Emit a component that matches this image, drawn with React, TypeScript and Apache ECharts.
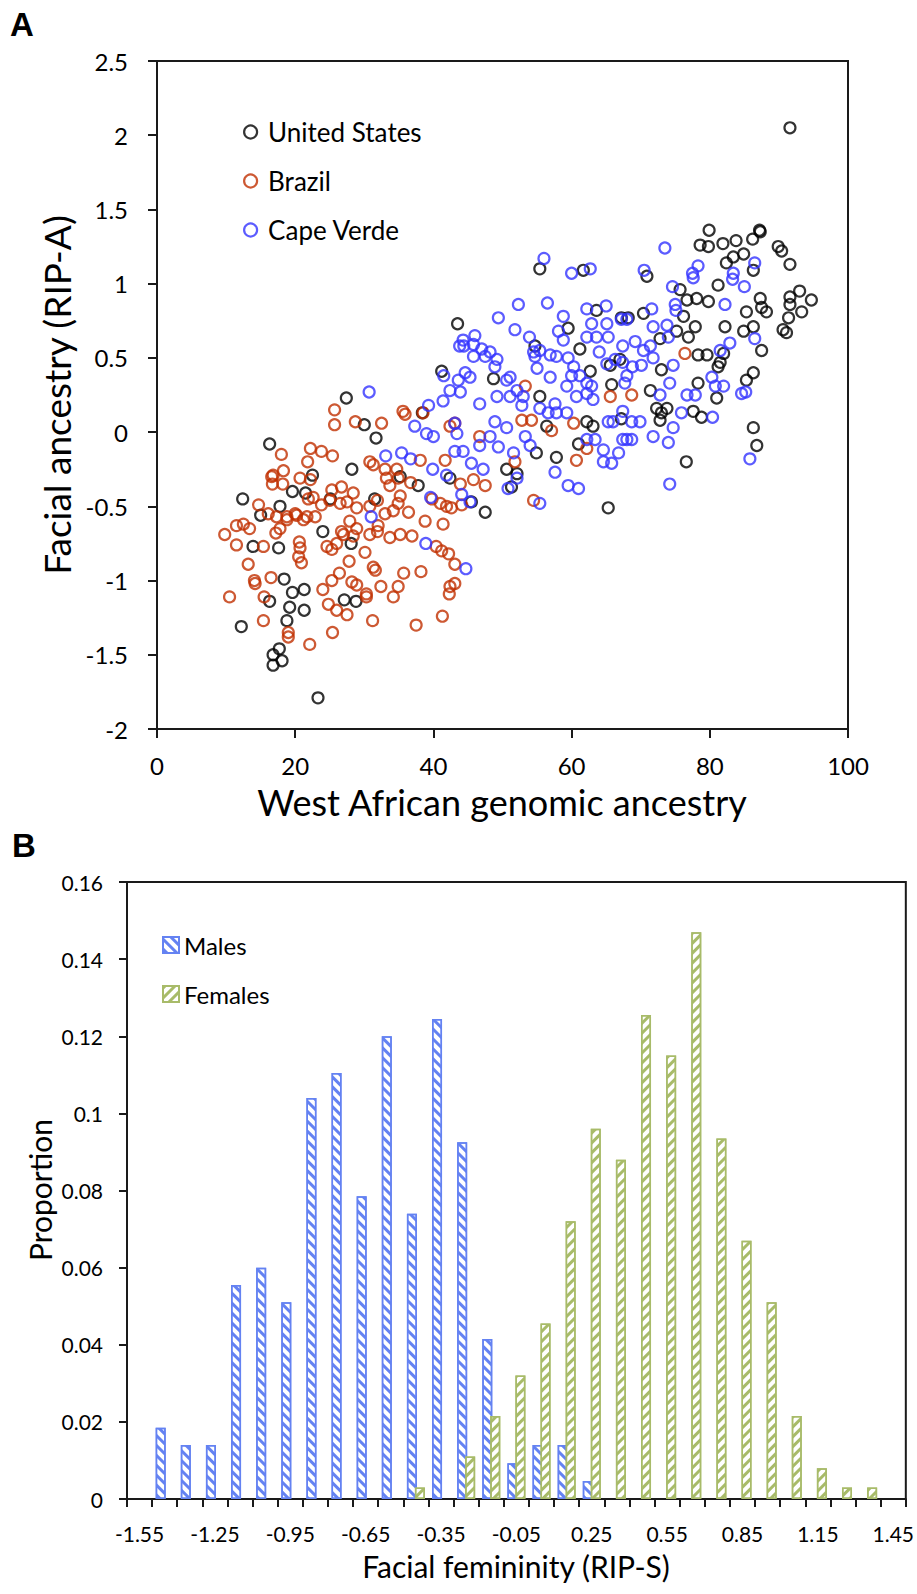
import React, { useEffect, useRef } from 'react';
import * as echarts from 'echarts';

// ---------- Panel A data: [West African genomic ancestry, Facial ancestry (RIP-A)] ----------
const unitedStates: number[][] = [
  [27.4,0.23],[30.0,0.05],[31.7,-0.04],[16.3,-0.08],[38.4,0.13],[28.2,-0.25],[22.5,-0.29],[19.6,-0.40],[21.5,-0.41],[12.4,-0.45],
  [17.8,-0.50],[15.0,-0.56],[31.5,-0.45],[35.2,-0.30],[37.8,-0.36],[42.4,-0.31],[24.0,-0.67],[28.1,-0.75],[13.9,-0.77],[17.6,-0.78],
  [18.4,-0.99],[19.6,-1.08],[21.3,-1.06],[16.3,-1.14],[19.2,-1.18],[21.3,-1.20],[27.1,-1.13],[28.8,-1.14],[18.8,-1.27],[12.2,-1.31],
  [17.7,-1.46],[16.8,-1.50],[18.1,-1.54],[16.8,-1.57],[23.3,-1.79],[25.1,-0.45],
  [43.5,0.73],[41.2,0.41],[47.5,-0.54],[65.3,-0.51],[45.5,-0.47],
  [55.4,1.10],[61.7,1.09],[70.9,1.05],[78.6,1.26],[63.6,0.82],[59.5,0.70],[68.2,0.77],[70.4,0.80],[75.7,0.96],[76.7,0.89],
  [78.1,0.90],[79.8,0.88],[81.2,0.99],[82.4,1.14],[83.4,1.18],[84.9,1.20],[86.3,1.09],[87.3,0.90],[88.2,0.81],[87.5,0.55],
  [85.3,0.81],[86.3,0.71],[84.9,0.68],[82.2,0.71],[77.9,0.71],[76.2,0.78],[75.2,0.68],[72.8,0.63],[76.9,0.64],[78.3,0.52],
  [79.6,0.52],[82.0,0.53],[81.2,0.44],[81.5,0.47],[86.3,0.40],[85.3,0.35],[78.3,0.33],[81.0,0.23],[73.0,0.42],[71.4,0.28],
  [72.3,0.16],[73.8,0.16],[72.8,0.08],[77.6,0.14],[78.8,0.10],[86.3,0.03],[86.8,-0.09],[76.6,-0.20],[67.2,0.77],[67.0,0.49],
  [65.8,0.32],[62.7,0.41],[61.2,0.56],[65.6,0.45],[55.4,0.24],[54.7,0.58],[48.7,0.36],[56.4,0.04],[63.1,0.04],[62.2,0.07],
  [67.2,0.09],[61.0,-0.08],[54.9,-0.14],[57.8,-0.17],[50.6,-0.25],[52.1,-0.28],[51.3,-0.37],[73.0,0.13],
  [91.6,2.05],[79.9,1.36],[79.8,1.25],[81.9,1.27],[83.8,1.29],[86.2,1.30],[87.2,1.36],
  [89.9,1.25],[90.4,1.22],[91.6,1.13],[87.3,1.35],[91.6,0.91],[93.0,0.95],[94.7,0.89],[91.6,0.86],[93.3,0.81],
  [91.4,0.77],[90.6,0.69],[91.1,0.67],[87.5,0.84]
];

const brazil: number[][] = [
  [25.7,0.15],[25.7,0.05],[28.7,0.07],[32.5,0.06],[35.6,0.14],[35.9,0.12],[38.5,0.13],[22.2,-0.11],[23.8,-0.13],[25.4,-0.16],
  [18.0,-0.15],[21.8,-0.20],[16.8,-0.29],[18.3,-0.26],[16.6,-0.30],[16.7,-0.35],[18.2,-0.35],[20.7,-0.31],[22.2,-0.32],[30.8,-0.20],
  [31.3,-0.22],[33.0,-0.25],[33.2,-0.31],[33.7,-0.36],[34.9,-0.31],[36.7,-0.34],[38.1,-0.19],[34.7,-0.25],[41.7,-0.19],[42.4,0.04],
  [43.1,0.06],
  [14.7,-0.49],[16.1,-0.55],[17.3,-0.57],[18.8,-0.57],[20.2,-0.56],[21.7,-0.57],[22.6,-0.44],[21.9,-0.45],[25.3,-0.39],[26.7,-0.37],
  [28.4,-0.41],[25.0,-0.46],[26.5,-0.48],[27.5,-0.47],[28.9,-0.51],[30.8,-0.50],[31.9,-0.46],[33.0,-0.55],[34.2,-0.53],[34.9,-0.48],
  [35.2,-0.43],[36.4,-0.54],[38.8,-0.60],[39.8,-0.45],[41.0,-0.48],[41.4,-0.62],[42.6,-0.51],
  [9.8,-0.69],[11.5,-0.63],[12.5,-0.62],[13.4,-0.65],[11.5,-0.76],[15.4,-0.77],[17.2,-0.68],[17.8,-0.65],[18.8,-0.59],[20.0,-0.55],
  [21.2,-0.59],[22.9,-0.57],[23.8,-0.49],[20.6,-0.74],[20.7,-0.78],[20.5,-0.84],[20.9,-0.88],[24.6,-0.77],[25.3,-0.79],[26.0,-0.75],
  [26.7,-0.67],[27.9,-0.60],[28.9,-0.65],[27.0,-0.69],[28.4,-0.70],[30.1,-0.81],[30.8,-0.69],[31.9,-0.67],[32.0,-0.63],[33.7,-0.71],
  [35.2,-0.69],[36.9,-0.70],
  [13.2,-0.89],[14.1,-1.00],[14.2,-1.02],[16.5,-0.98],[15.5,-1.11],[10.5,-1.11],[15.4,-1.27],[19.0,-1.35],[19.0,-1.38],[22.1,-1.43],
  [24.0,-1.06],[25.4,-1.35],[24.8,-1.16],[26.0,-1.20],[25.3,-1.00],[26.4,-0.95],[27.8,-0.87],[27.5,-1.23],[28.2,-1.01],[28.9,-1.03],
  [30.3,-1.09],[30.3,-1.11],[31.3,-0.91],[31.6,-0.93],[32.4,-1.04],[34.2,-1.11],[34.9,-1.04],[35.7,-0.95],[38.2,-0.94],[31.2,-1.27],
  [37.5,-1.30],[41.3,-1.24],[40.4,-0.77],[41.2,-0.80],[42.2,-0.82],[43.1,-0.89],[42.4,-1.04],[42.3,-1.09],[43.1,-1.02],
  [76.4,0.53],[53.3,0.31],[65.6,0.24],[68.7,0.25],[54.2,0.08],[60.3,0.06],[57.1,0.01],[46.7,-0.03],[51.8,-0.20],[60.7,-0.19],
  [62.2,-0.11],[52.8,0.08],[54.5,-0.46],[45.8,-0.32],[47.5,-0.36],[43.9,-0.35],[41.9,-0.50],[44.1,-0.49]
];

const capeVerde: number[][] = [
  [30.7,0.27],[37.3,0.04],[39.3,0.18],[41.4,0.21],[39.0,-0.01],[40.0,-0.03],[33.1,-0.16],[35.4,-0.14],[36.7,-0.18],[39.9,-0.25],
  [43.1,-0.13],[43.4,-0.01],[31.0,-0.57],[39.6,-0.44],[38.9,-0.75],[42.4,0.28],[43.6,0.35],[41.5,0.38],[43.8,0.58],
  [44.7,-0.92],[45.3,-0.47],[73.5,1.24],[56.0,1.17],
  [60.0,1.07],[62.7,1.10],[70.5,1.09],[78.3,1.12],[77.5,1.07],[77.6,1.04],[83.4,1.07],[83.3,1.03],[85.0,0.98],[86.5,1.14],
  [74.6,0.98],[75.0,0.86],[75.1,0.82],[82.2,0.86],[86.5,0.63],[52.3,0.86],[56.5,0.87],[49.4,0.77],[51.8,0.69],[58.8,0.78],
  [62.2,0.83],[65.0,0.85],[67.2,0.76],[68.0,0.76],[71.6,0.83],[71.8,0.71],[73.8,0.72],[74.0,0.64],[62.9,0.73],[62.2,0.64],
  [63.6,0.64],[65.1,0.73],[65.3,0.64],[58.1,0.68],[58.8,0.62],[53.9,0.64],[44.3,0.62],[46.0,0.65],[44.4,0.58],[45.8,0.59],
  [47.0,0.56],[48.2,0.54],[47.5,0.51],[49.2,0.49],[48.9,0.44],[45.8,0.51],[54.5,0.54],[55.4,0.55],[56.9,0.52],[57.8,0.51],
  [59.5,0.50],[60.3,0.44],[60.0,0.38],[61.2,0.38],[62.2,0.33],[62.9,0.31],[64.0,0.54],[65.1,0.46],[66.3,0.49],[67.4,0.47],
  [67.4,0.58],[69.2,0.61],[70.4,0.55],[71.4,0.58],[71.8,0.50],[70.1,0.45],[68.8,0.44],[74.7,0.45],[81.5,0.55],[82.9,0.60],
  [80.3,0.37],[80.8,0.31],[82.0,0.31],[84.6,0.26],[85.2,0.27],[80.4,0.10],[76.7,0.25],[77.9,0.25],[74.2,0.33],[72.8,0.25],
  [74.7,0.03],[75.9,0.13],[71.8,-0.03],[74.0,-0.07],[69.9,0.07],[68.7,-0.05],[68.0,-0.05],[67.4,0.14],[66.0,0.07],[65.3,0.07],
  [64.6,-0.12],[66.8,-0.14],[65.8,-0.21],[74.2,-0.35],[85.8,-0.18],[67.7,0.33],[68.0,0.38],[62.2,0.26],[63.1,0.22],[60.7,0.24],
  [59.3,0.31],[57.6,0.19],[57.8,0.13],[59.3,0.13],[56.6,0.13],[55.4,0.16],[52.8,0.18],[53.0,0.24],[51.1,0.24],[50.6,0.35],
  [49.2,0.24],[46.7,0.19],[43.9,0.27],[44.6,0.40],[45.3,0.37],[51.1,0.37],[54.7,0.51],[55.0,0.43],[56.9,0.37],[52.1,0.28],
  [48.9,0.07],[50.6,0.03],[48.2,-0.03],[49.4,-0.10],[46.7,-0.09],[44.3,-0.13],[43.1,0.06],[45.5,-0.21],[47.2,-0.25],[54.0,-0.09],
  [53.3,-0.03],[51.6,-0.14],[57.6,-0.27],[52.1,-0.31],[50.8,-0.38],[59.5,-0.36],[61.0,-0.38],[55.4,-0.48],[44.1,-0.42],[41.9,-0.29],
  [62.2,-0.05],[63.4,-0.05],[64.6,-0.20],[67.4,-0.05],[68.7,0.07]
];

// ---------- Panel B data ----------
const femininityBins = ['-1.55','-1.45','-1.35','-1.25','-1.15','-1.05','-0.95','-0.85','-0.75','-0.65','-0.55','-0.45','-0.35','-0.25','-0.15','-0.05','0.05','0.15','0.25','0.35','0.45','0.55','0.65','0.75','0.85','0.95','1.05','1.15','1.25','1.35','1.45'];
const males = [0,0.0185,0.014,0.014,0.0555,0.06,0.051,0.104,0.1105,0.0785,0.12,0.074,0.1245,0.0925,0.0415,0.0093,0.014,0.014,0.0047,0,0,0,0,0,0,0,0,0,0,0,0];
const females = [0,0,0,0,0,0,0,0,0,0,0,0.003,0,0.011,0.0215,0.032,0.0455,0.072,0.096,0.088,0.1255,0.115,0.147,0.0935,0.067,0.051,0.0215,0.008,0.003,0.003,0];

const FONT = 'Lato, "Liberation Sans", sans-serif';
const AXIS = '#1a1a1a';
const C_US = '#000000';
const C_BR = '#c03000';
const C_CV = '#3333ff';
const C_M = '#6482f2';
const C_F = '#a8bb69';

export default function App() {
  const ref = useRef<HTMLDivElement>(null);
  useEffect(() => {
    if (!ref.current) return;
    const chart = echarts.init(ref.current, undefined, { renderer: 'svg' });
    const axisLine = { show: true, onZero: false, lineStyle: { color: AXIS, width: 2 } };
    const scatter = (name: string, data: number[][], color: string) => ({
      type: 'scatter', name, xAxisIndex: 0, yAxisIndex: 0, data,
      symbol: 'circle', symbolSize: 11,
      itemStyle: { color: 'transparent', borderColor: color, borderWidth: 2.2 },
      emphasis: { disabled: true },
    });
    const nz = (arr: number[]) => arr.map((v) => (v === 0 ? null : v));
    chart.setOption({
      animation: false,
      textStyle: { fontFamily: FONT },
      grid: [
        { left: 157, right: 69, top: 61, bottom: 865, show: true, borderColor: AXIS, borderWidth: 2, backgroundColor: 'transparent' },
        { left: 127, right: 11, top: 882, bottom: 95, show: true, borderColor: AXIS, borderWidth: 2, backgroundColor: 'transparent' },
      ],
      xAxis: [
        {
          type: 'value', gridIndex: 0, min: 0, max: 100, interval: 20,
          axisLine, axisTick: { show: true, length: 9, lineStyle: { color: AXIS, width: 2 } },
          axisLabel: { margin: 24, fontSize: 24, color: '#000', fontFamily: FONT },
          splitLine: { show: false },
        },
        {
          type: 'category', gridIndex: 1, data: femininityBins,
          axisLine, axisTick: { show: true, interval: 0, length: 8, lineStyle: { color: AXIS, width: 2 } },
          axisLabel: { interval: 2, margin: 24, fontSize: 21, color: '#000', fontFamily: FONT },
          splitLine: { show: false },
        },
      ],
      yAxis: [
        {
          type: 'value', gridIndex: 0, min: -2, max: 2.5, interval: 0.5,
          axisLine, axisTick: { show: true, length: 9, lineStyle: { color: AXIS, width: 2 } },
          axisLabel: { margin: 29, fontSize: 24, color: '#000', fontFamily: FONT },
          splitLine: { show: false },
        },
        {
          type: 'value', gridIndex: 1, min: 0, max: 0.16, interval: 0.02,
          axisLine, axisTick: { show: true, length: 8, lineStyle: { color: AXIS, width: 2 } },
          axisLabel: { margin: 24, fontSize: 21, color: '#000', fontFamily: FONT },
          splitLine: { show: false },
        },
      ],
      legend: [
        {
          orient: 'vertical', left: 238, top: 114, itemWidth: 13, itemHeight: 13, itemGap: 23,
          selectedMode: false,
          textStyle: { fontSize: 26, color: '#000', fontFamily: FONT, padding: [0, 0, 0, 6] },
          data: [
            { name: 'United States', icon: 'circle', itemStyle: { color: 'transparent', borderColor: C_US, borderWidth: 2.2 } },
            { name: 'Brazil', icon: 'circle', itemStyle: { color: 'transparent', borderColor: C_BR, borderWidth: 2.2 } },
            { name: 'Cape Verde', icon: 'circle', itemStyle: { color: 'transparent', borderColor: C_CV, borderWidth: 2.2 } },
          ],
        },
        {
          orient: 'vertical', left: 157, top: 928, itemWidth: 16, itemHeight: 16, itemGap: 25,
          selectedMode: false, icon: 'rect',
          textStyle: { fontSize: 24, color: '#000', fontFamily: FONT },
          data: ['Males', 'Females'],
        },
      ],
      series: [
        scatter('United States', unitedStates, C_US),
        scatter('Brazil', brazil, C_BR),
        scatter('Cape Verde', capeVerde, C_CV),
        {
          type: 'bar', name: 'Males', xAxisIndex: 1, yAxisIndex: 1, data: nz(males),
          barWidth: 10, barGap: '-20%',
          itemStyle: {
            color: '#ffffff', borderColor: C_M, borderWidth: 1.5,
            decal: { symbol: 'rect', symbolSize: 1, color: C_M, dashArrayX: [1, 0], dashArrayY: [2.5, 3.5], rotation: Math.PI / 4 },
          },
          emphasis: { disabled: true },
        },
        {
          type: 'bar', name: 'Females', xAxisIndex: 1, yAxisIndex: 1, data: nz(females),
          barWidth: 10, barGap: '-20%',
          itemStyle: {
            color: '#ffffff', borderColor: C_F, borderWidth: 1.5,
            decal: { symbol: 'rect', symbolSize: 1, color: C_F, dashArrayX: [1, 0], dashArrayY: [2.5, 3.5], rotation: -Math.PI / 4 },
          },
          emphasis: { disabled: true },
        },
      ],
      graphic: [
        { type: 'text', x: 10, y: 8, style: { text: 'A', font: 'bold 33px "Liberation Sans", Arial, sans-serif', fill: '#000' } },
        { type: 'text', x: 12, y: 829, style: { text: 'B', font: 'bold 33px "Liberation Sans", Arial, sans-serif', fill: '#000' } },
        { type: 'text', x: 502, y: 802, style: { text: 'West African genomic ancestry', font: `36px ${FONT}`, fill: '#000', align: 'center', verticalAlign: 'middle' } },
        { type: 'text', x: 56, y: 395, rotation: Math.PI / 2, style: { text: 'Facial ancestry (RIP-A)', font: `37px ${FONT}`, fill: '#000', align: 'center', verticalAlign: 'middle' } },
        { type: 'text', x: 516, y: 1566, style: { text: 'Facial femininity (RIP-S)', font: `30px ${FONT}`, fill: '#000', align: 'center', verticalAlign: 'middle' } },
        { type: 'text', x: 40, y: 1190, rotation: Math.PI / 2, style: { text: 'Proportion', font: `30px ${FONT}`, fill: '#000', align: 'center', verticalAlign: 'middle' } },
      ],
    });
    return () => chart.dispose();
  }, []);
  return <div ref={ref} style={{ position: 'absolute', left: 0, top: 0, width: 917, height: 1594, background: '#fff' }} />;
}
